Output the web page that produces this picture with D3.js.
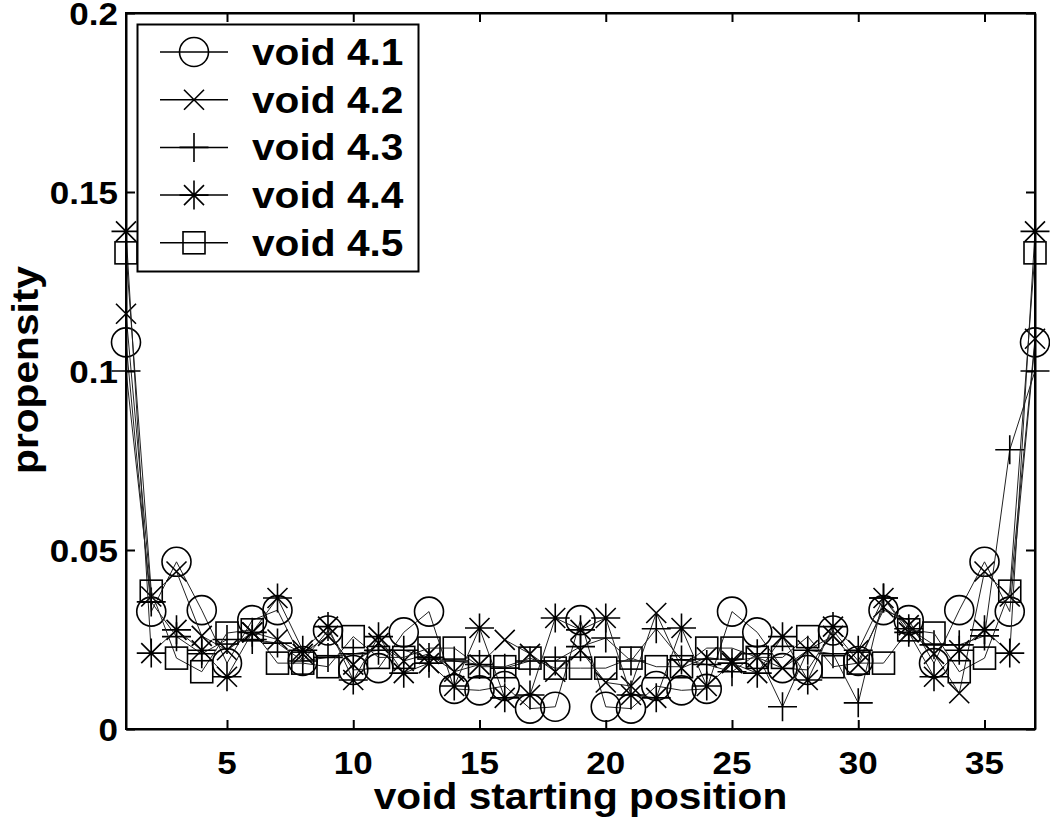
<!DOCTYPE html>
<html><head><meta charset="utf-8">
<script src="https://cdn.jsdelivr.net/npm/d3@7"></script>
<style>body{margin:0;background:#fff}svg{display:block}text{font-family:"Liberation Sans",Arial,sans-serif;font-weight:bold;fill:#000}</style>
</head><body><svg id="c" width="1050" height="819"></svg>
<script>
const positions = d3.range(1, 38);
const seriesNames = ["void 4.1", "void 4.2", "void 4.3", "void 4.4", "void 4.5"];
const markerTypes = ["circle", "x", "plus", "star", "square"];
const void41 = [0.108,0.0328,0.0467,0.0332,0.0184,0.0304,0.0332,0.019,0.0275,0.0165,0.017,0.027,0.0328,0.0112,0.0108,0.012,0.0057,0.0062,0.0304,0.0062,0.0057,0.012,0.0108,0.0112,0.0328,0.027,0.017,0.0165,0.0275,0.019,0.0332,0.0304,0.0184,0.0332,0.0467,0.0328,0.108];
const void42 = [0.116,0.037,0.044,0.026,0.022,0.027,0.025,0.021,0.026,0.018,0.024,0.019,0.021,0.016,0.018,0.0249,0.021,0.016,0.022,0.013,0.012,0.0324,0.017,0.02,0.019,0.02,0.017,0.022,0.026,0.018,0.034,0.029,0.021,0.010,0.044,0.037,0.109];
const void43 = [0.1,0.0355,0.0258,0.021,0.025,0.025,0.024,0.019,0.02,0.021,0.022,0.022,0.02,0.019,0.018,0.017,0.019,0.019,0.023,0.0254,0.019,0.028,0.0193,0.018,0.016,0.021,0.0062,0.022,0.021,0.0073,0.0366,0.028,0.0235,0.0235,0.026,0.078,0.1];
const void44 = [0.139,0.0212,0.0277,0.022,0.0146,0.027,0.0366,0.022,0.0286,0.0137,0.0258,0.0156,0.0184,0.012,0.0282,0.0087,0.0095,0.031,0.0277,0.031,0.0095,0.0087,0.0282,0.012,0.0184,0.0156,0.0258,0.0137,0.0286,0.022,0.0366,0.027,0.0146,0.022,0.0277,0.0212,0.139];
const void45 = [0.133,0.0385,0.0198,0.016,0.0268,0.0277,0.0184,0.0184,0.0174,0.0258,0.020,0.020,0.0226,0.0226,0.0174,0.0174,0.0198,0.017,0.017,0.017,0.0198,0.0174,0.0174,0.0226,0.0226,0.020,0.020,0.0258,0.0174,0.0184,0.0184,0.0277,0.0268,0.016,0.0198,0.0385,0.133];
const xTicks = [5,10,15,20,25,30,35];
const yTicks = [0,0.05,0.1,0.15,0.2];
const yTickLabels = ["0","0.05","0.1","0.15","0.2"];
const allSeries = [void41, void42, void43, void44, void45];

const svg = d3.select("#c");
const L = 126, R = 1035, T = 13, B = 729;
const x = d3.scaleLinear().domain([1, 37]).range([L, R]);
const y = d3.scaleLinear().domain([0, 0.2]).range([B, T]);
const SX = 1.13;

function marker(g, type, cx, cy) {
  const s = g.append("g").attr("transform", `translate(${cx},${cy})`)
    .attr("fill", "none").attr("stroke", "#000").attr("stroke-width", 1.6);
  if (type === "circle") s.append("circle").attr("r", 14.5);
  else if (type === "square") s.append("rect").attr("x", -11).attr("y", -11).attr("width", 22).attr("height", 22);
  else if (type === "x") s.append("path").attr("d", "M-10,-10L10,10M-10,10L10,-10");
  else if (type === "plus") s.append("path").attr("d", "M-14.5,0H14.5M0,-14.5V14.5");
  else if (type === "star") s.append("path").attr("d", "M-14.5,0H14.5M0,-14.5V14.5M-10,-10L10,10M-10,10L10,-10");
}

const plot = svg.append("g");
const line = d3.line().x((d, i) => x(positions[i])).y(d => y(d));
allSeries.forEach((vals, k) => {
  plot.append("path").datum(vals).attr("d", line)
    .attr("fill", "none").attr("stroke", "#222").attr("stroke-width", 1);
  vals.forEach((v, i) => marker(plot, markerTypes[k], x(positions[i]), y(v)));
});

// axes box with inward ticks
const ax = svg.append("g");
ax.append("g").attr("transform", `translate(0,${B})`)
  .call(d3.axisBottom(x).tickValues(xTicks).tickSizeInner(-9).tickSizeOuter(0).tickFormat(""));
ax.append("g").attr("transform", `translate(0,${T})`)
  .call(d3.axisTop(x).tickValues(xTicks).tickSizeInner(-9).tickSizeOuter(0).tickFormat(""));
ax.append("g").attr("transform", `translate(${L},0)`)
  .call(d3.axisLeft(y).tickValues(yTicks).tickSizeInner(-9).tickSizeOuter(0).tickFormat(""));
ax.append("g").attr("transform", `translate(${R},0)`)
  .call(d3.axisRight(y).tickValues(yTicks).tickSizeInner(-9).tickSizeOuter(0).tickFormat(""));
ax.selectAll(".domain").attr("stroke", "#000").attr("stroke-width", 2);
ax.selectAll(".tick line").attr("stroke", "#000").attr("stroke-width", 2);
ax.append("rect").attr("x", L).attr("y", T).attr("width", R - L).attr("height", B - T)
  .attr("fill", "none").attr("stroke", "#000").attr("stroke-width", 2);

// tick labels
xTicks.forEach(t => {
  svg.append("text").attr("transform", `translate(${x(t)},774) scale(${SX},1)`)
    .attr("text-anchor", "middle").style("font-size", "31px").text(t);
});
yTicks.forEach((t, i) => {
  svg.append("text").attr("transform", `translate(118,${y(t) + 12}) scale(${SX},1)`)
    .attr("text-anchor", "end").style("font-size", "31px").text(yTickLabels[i]);
});
svg.append("text").attr("transform", `translate(${(L + R) / 2},809) scale(${SX},1)`)
  .attr("text-anchor", "middle").style("font-size", "36px").text("void starting position");
svg.append("text").attr("transform", `translate(38,370) rotate(-90) scale(${SX},1)`)
  .attr("text-anchor", "middle").style("font-size", "36px").text("propensity");

// legend
const lg = svg.append("g");
lg.append("rect").attr("x", 137.5).attr("y", 24.5).attr("width", 281).attr("height", 247)
  .attr("fill", "#fff").attr("stroke", "#000").attr("stroke-width", 2);
seriesNames.forEach((n, k) => {
  const cy = 52 + k * 47.7;
  lg.append("line").attr("x1", 160).attr("x2", 228).attr("y1", cy).attr("y2", cy)
    .attr("stroke", "#000").attr("stroke-width", 1.5);
  marker(lg, markerTypes[k], 194, cy);
  lg.append("text").attr("transform", `translate(252,${cy + 13}) scale(${SX},1)`)
    .style("font-size", "36px").text(n);
});
</script></body></html>
